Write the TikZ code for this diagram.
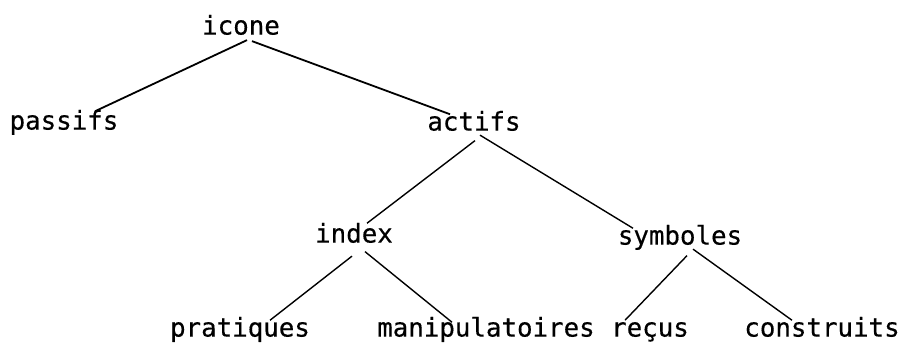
\documentclass[tikz,border=0pt]{standalone}
\usepackage{fontspec}
\setmonofont[FakeBold=0.4]{DejaVu Sans Mono}
\usepackage{tikz}
\usetikzlibrary{positioning}
\tikzset{%
        on grid,
        node distance=50pt
}
\tikzstyle{every node}=[
    font = \ttfamily\fontsize{12.9}{15}\selectfont,
    inner sep = 1pt,
    text height = 1.5ex,
    text depth = .25ex
]
\tikzstyle{branch}=[
    draw = black,
    line width = 0.9pt
]
\tikzstyle{twig}=[
    draw = black,
    line width = 0.7pt
]

\begin{document}
\begin{tikzpicture}
        \useasboundingbox (0,0) rectangle (454.5pt,-173pt);
        \node (icone) at (120.5pt,-14.6pt) {icone};
        \node (passifs) [below left = 47.5pt and 88.5pt of icone] {passifs};
        \node (actifs) [below right = 48pt and 116.5pt of icone] {actifs};
        \node (index) [below left = 56pt and 60pt of actifs] {index};
        \node (symboles) [below right = 57pt and 103pt of actifs] {symboles};
        \node (pratiques) [below left = 47pt and 57pt of index] {pratiques};
        \node (manipulatoires) [below right = 47pt and 66pt of index] {manipulatoires};
        \node (recus) [below left = 46pt and 15pt of symboles] {reçus};
        \node (construits) [below right = 46pt and 71pt of symboles] {construits};
        \path
        ([xshift=3pt,yshift=-0.5pt]icone.south) edge[branch] ([xshift=15.5pt,yshift=1.5pt]passifs.north)
        ([xshift=5.5pt,yshift=-1pt]icone.south) edge[branch] ([xshift=-12pt,yshift=0.5pt]actifs.north)
        ([xshift=0.5pt,yshift=-2.75pt]actifs.south) edge[twig] ([xshift=6.5pt,yshift=2pt]index.north)
        ([xshift=3pt]actifs.south) edge[twig] ([xshift=-23.5pt,yshift=0.5pt]symboles.north)
        ([xshift=-1pt,yshift=-4.5pt]index.south) edge[twig] ([xshift=15pt,yshift=0.5pt]pratiques.north)
        ([xshift=5.5pt,yshift=-2.25pt]index.south) edge[twig] ([xshift=-17pt,yshift=-0.5pt]manipulatoires.north)
        ([xshift=3.5pt,yshift=-3.25pt]symboles.south) edge[twig] ([xshift=-12.5pt,yshift=0.5pt]recus.north)
        ([xshift=6.5pt]symboles.south) edge[twig] ([xshift=-15pt,yshift=0.5pt]construits.north)
        ;
\end{tikzpicture}
\end{document}
